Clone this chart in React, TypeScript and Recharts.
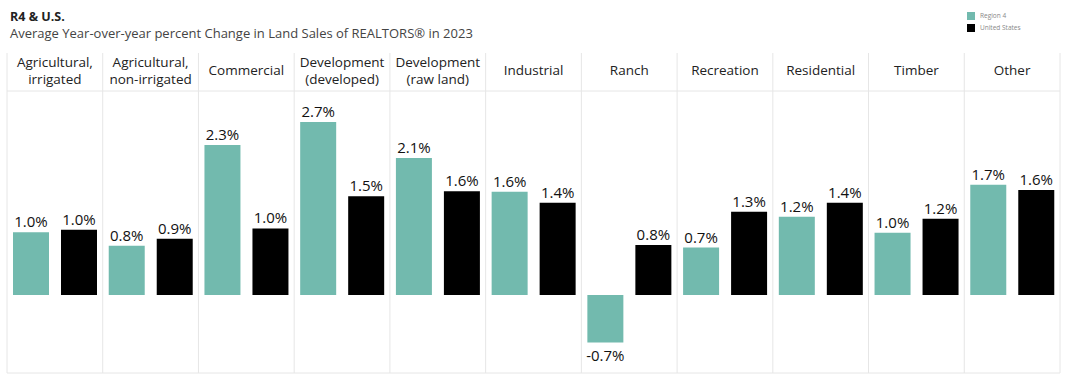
import { Bar, BarChart, LabelList, ReferenceLine, XAxis, YAxis } from "recharts";

const categories = [
  "Agricultural,\nirrigated",
  "Agricultural,\nnon-irrigated",
  "Commercial",
  "Development\n(developed)",
  "Development\n(raw land)",
  "Industrial",
  "Ranch",
  "Recreation",
  "Residential",
  "Timber",
  "Other",
];

const region4 = [0.98, 0.77, 2.34, 2.7, 2.14, 1.61, -0.74, 0.74, 1.22, 0.97, 1.72];
const unitedStates = [1.02, 0.88, 1.04, 1.54, 1.62, 1.44, 0.78, 1.3, 1.44, 1.19, 1.64];

const seriesNames = ["Region 4", "United States"];
const Y_MIN = -1.217;
const Y_MAX = 3.184;

const TEAL = "#72baae";
const FONT = "'Open Sans', sans-serif";
const DIVIDER = "#e6e6e6";

const data = categories.map((name, i) => ({
  name,
  r4: region4[i],
  us: unitedStates[i],
}));

const PANEL_W = 1053 / categories.length;

function HeaderTick(props: any) {
  const { x, payload, index } = props;
  const lines = String(payload.value).split("\n");
  const left = x - PANEL_W / 2;
  const right = x + PANEL_W / 2;
  return (
    <g>
      <line x1={left} x2={left} y1={53} y2={373} stroke={DIVIDER} strokeWidth={1} />
      {index === categories.length - 1 && (
        <line x1={right} x2={right} y1={53} y2={373} stroke={DIVIDER} strokeWidth={1} />
      )}
      {lines.map((ln, i) => (
        <text
          key={i}
          x={x}
          y={lines.length === 1 ? 70 : 62 + i * 17}
          textAnchor="middle"
          dominantBaseline="central"
          fontFamily={FONT}
          fontSize={13.5}
          fill="#222"
        >
          {ln}
        </text>
      ))}
    </g>
  );
}

function ValueLabel(props: any) {
  const { x, y, width, height, value } = props;
  const top = Math.min(y, y + height);
  const bottom = Math.max(y, y + height);
  const neg = value < 0;
  return (
    <text
      x={x + width / 2}
      y={neg ? bottom + 13 : top - 11}
      textAnchor="middle"
      dominantBaseline="central"
      fontFamily={FONT}
      fontSize={15}
      fill="#111"
    >
      {value.toFixed(1)}%
    </text>
  );
}

export default function App() {
  return (
    <div
      style={{
        position: "absolute",
        left: 0,
        top: 0,
        width: 1068,
        height: 382,
        background: "#fff",
        fontFamily: FONT,
      }}
    >
      <div style={{ position: "absolute", left: 10, top: 8, fontSize: 12.5, fontWeight: 700, color: "#222" }}>
        R4 &amp; U.S.
      </div>
      <div style={{ position: "absolute", left: 10, top: 24, fontSize: 13, color: "#444" }}>
        Average Year-over-year percent Change in Land Sales of REALTORS® in 2023
      </div>
      <div style={{ position: "absolute", left: 967, top: 10, fontSize: 6.5, color: "#888", lineHeight: "12px" }}>
        {seriesNames.map((s, i) => (
          <div key={s} style={{ display: "flex", alignItems: "center", gap: 5 }}>
            <span style={{ width: 8, height: 8, background: i === 0 ? TEAL : "#000", display: "inline-block" }} />
            {s}
          </div>
        ))}
      </div>
      <div style={{ position: "absolute", left: 0, top: 0 }}>
        <BarChart
          width={1068}
          height={382}
          data={data}
          margin={{ top: 47, right: 8, bottom: 9, left: 7 }}
          barCategoryGap={6}
          barGap={12}
        >
          <XAxis
            dataKey="name"
            orientation="top"
            height={44}
            interval={0}
            tickLine={false}
            axisLine={{ stroke: DIVIDER }}
            tick={<HeaderTick />}
          />
          <YAxis hide domain={[Y_MIN, Y_MAX]} allowDataOverflow />
          <ReferenceLine y={Y_MIN} stroke={DIVIDER} />
          <Bar dataKey="r4" name={seriesNames[0]} fill={TEAL} isAnimationActive={false}>
            <LabelList dataKey="r4" content={<ValueLabel />} />
          </Bar>
          <Bar dataKey="us" name={seriesNames[1]} fill="#000" isAnimationActive={false}>
            <LabelList dataKey="us" content={<ValueLabel />} />
          </Bar>
        </BarChart>
      </div>
    </div>
  );
}
